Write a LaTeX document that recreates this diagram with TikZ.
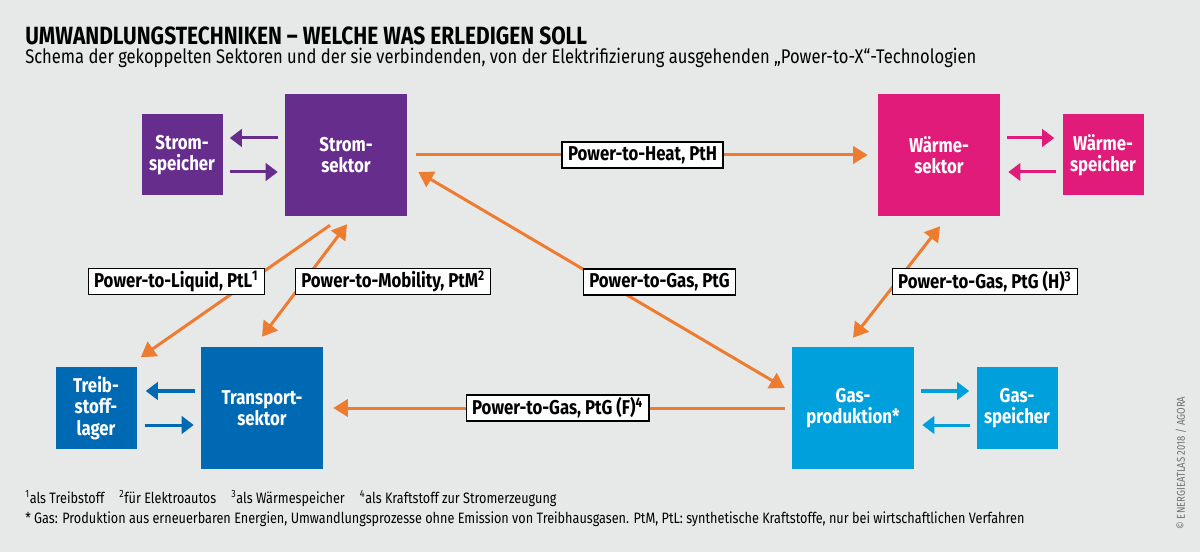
\documentclass[tikz,border=0pt]{standalone}
\usepackage{fontspec}
\setmainfont{Fira Sans}[FakeStretch=0.84]
\usetikzlibrary{arrows.meta}
\definecolor{bgcol}{HTML}{E7E9E8}
\definecolor{stromcol}{HTML}{662D8C}
\definecolor{waermecol}{HTML}{E01B7A}
\definecolor{transcol}{HTML}{0069B4}
\definecolor{gascol}{HTML}{00A0DC}
\definecolor{ptxcol}{HTML}{EE7C30}
\definecolor{creditcol}{HTML}{6F7272}

\begin{document}
\begin{tikzpicture}[x=0.75pt,y=-0.75pt,
   sektor/.style={minimum size=91.5pt,inner sep=0pt,align=center,text=white,
     font=\bfseries\fontsize{15}{16}\selectfont},
   speicher/.style={sektor,minimum size=60.75pt},
   sarr/.style={line width=2.25pt,-{Triangle[length=9pt,width=13pt]}},
   ptx/.style={draw=ptxcol,line width=2.25pt,-{Triangle[length=11pt,width=13pt]}},
   ptxx/.style={ptx,{Triangle[length=11pt,width=13pt]}-{Triangle[length=11pt,width=13pt]}},
   lbl/.style={draw=black,fill=white,line width=0.9pt,inner xsep=4.5pt,inner ysep=0pt,
     minimum height=19.5pt,text=black,font=\bfseries\fontsize{15}{16}\selectfont}]
\fill[bgcol] (0,0) rectangle (1200,552);

\node[anchor=base west,inner sep=0pt,text depth=0pt,font=\bfseries\fontsize{18.7}{22}\selectfont] (titel) at (25,44.5)
  {UMWANDLUNGSTECHNIKEN – WELCHE WAS ERLEDIGEN SOLL};
\node[anchor=base west,inner sep=0pt,font=\fontsize{14.8}{18}\selectfont] (untertitel) at (25,64)
  {Schema der gekoppelten Sektoren und der sie verbindenden, von der Elektrifizierung ausgehenden „Power-to-X“-Technologien};

\node[sektor,fill=stromcol] (stromsektor) at (346,155) {Strom-\\sektor};
\node[speicher,fill=stromcol] (stromspeicher) at (182,155) {Strom-\\speicher};
\node[sektor,fill=waermecol] (waermesektor) at (939,155) {Wärme-\\sektor};
\node[speicher,fill=waermecol] (waermespeicher) at (1103,155) {Wärme-\\speicher};
\node[sektor,fill=transcol] (transport) at (262,408) {Transport-\\sektor};
\node[speicher,fill=transcol] (treib) at (96,408) {Treib-\\stoff-\\lager};
\node[sektor,fill=gascol] (gasprod) at (853,408) {Gas-\\produktion*};
\node[speicher,fill=gascol] (gasspeicher) at (1017,408) {Gas-\\speicher};

\draw[sarr,stromcol] ([shift={(-7,-17)}]stromsektor.west) -- ([shift={(7,-17)}]stromspeicher.east);
\draw[sarr,stromcol] ([shift={(7,17)}]stromspeicher.east) -- ([shift={(-7,17)}]stromsektor.west);
\draw[sarr,waermecol] ([shift={(7,-17)}]waermesektor.east) -- ([shift={(-8,-17)}]waermespeicher.west);
\draw[sarr,waermecol] ([shift={(-6,17)}]waermespeicher.west) -- ([shift={(8,17)}]waermesektor.east);
\draw[sarr,transcol] ([shift={(-6,-17)}]transport.west) -- ([shift={(9,-17)}]treib.east);
\draw[sarr,transcol] ([shift={(8,17)}]treib.east) -- ([shift={(-7,17)}]transport.west);
\draw[sarr,gascol] ([shift={(7,-17)}]gasprod.east) -- ([shift={(-7,-17)}]gasspeicher.west);
\draw[sarr,gascol] ([shift={(-6,17)}]gasspeicher.west) -- ([shift={(8,17)}]gasprod.east);

\draw[ptx,shorten <=6.75pt,shorten >=7.5pt] (stromsektor) --
  node[lbl] (pth) {Power-to-Heat, PtH} (waermesektor);
\draw[ptx,shorten <=5.25pt,shorten >=7.5pt] (gasprod) --
  node[lbl] (ptgf) {Power-to-Gas, PtG (F)\textsuperscript{4}} (transport);
\draw[ptxx] ([shift={(11,17)}]stromsektor.east) --
  node[lbl,pos=0.5,xshift=43.5pt,yshift=-1.5pt] (ptg) {Power-to-Gas, PtG} ([shift={(-7,-20)}]gasprod.west);
\draw[ptx] ([shift={(-16,9)}]stromsektor.south) --
  node[lbl,pos=0.427,xshift=-54.75pt] (ptl) {Power-to-Liquid, PtL\textsuperscript{1}} ([shift={(4,-10)}]treib.north east);
\draw[ptxx] ([shift={(0,-10)}]transport.north) --
  node[lbl,pos=0.491,xshift=67pt] (ptm) {Power-to-Mobility, PtM\textsuperscript{2}} ([shift={(1,8)}]stromsektor.south);
\draw[ptxx] ([shift={(0,-9)}]gasprod.north) --
  node[lbl,pos=0.504,xshift=66pt] (ptgh) {Power-to-Gas, PtG (H)\textsuperscript{3}} ([shift={(1,10)}]waermesektor.south);

\node[anchor=base west,inner sep=0pt,font=\fontsize{11.3}{13}\selectfont] (fn1) at (25,503)
  {\textsuperscript{1}als Treibstoff\quad \textsuperscript{2}für Elektroautos\quad \textsuperscript{3}als Wärmespeicher\quad \textsuperscript{4}als Kraftstoff zur Stromerzeugung};
\node[anchor=base west,inner sep=0pt,font=\fontsize{11.3}{13}\selectfont] (fn2) at (25,523)
  {* Gas: Produktion aus erneuerbaren Energien, Umwandlungsprozesse ohne Emission von Treibhausgasen. PtM, PtL: synthetische Kraftstoffe, nur bei wirtschaftlichen Verfahren};
\node[rotate=90,inner sep=0pt,text=creditcol,font=\fontsize{8.5}{10}\selectfont] (credit) at (1181,463)
  {© ENERGIEATLAS 2018 / AGORA};
\end{tikzpicture}
\end{document}
